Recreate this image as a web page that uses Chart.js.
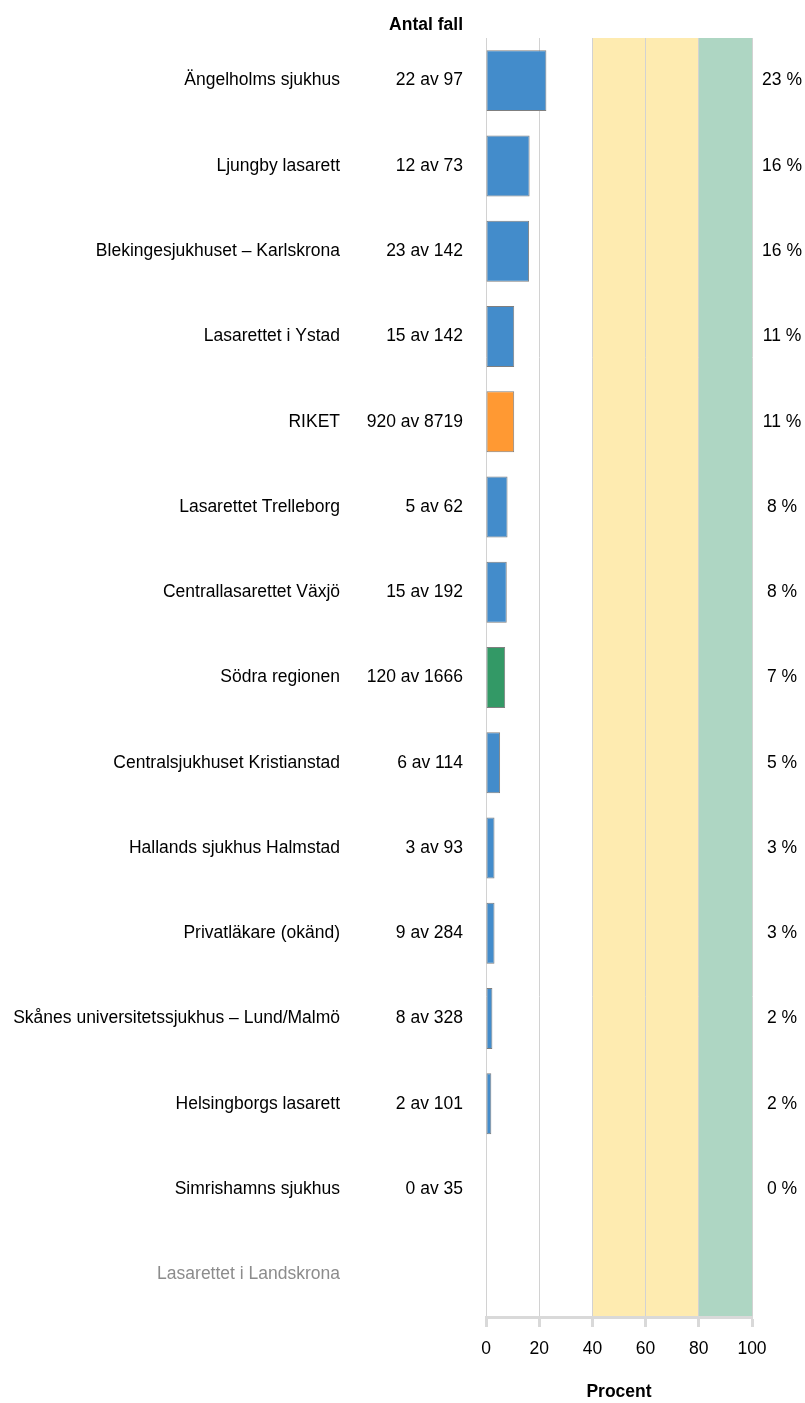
<!DOCTYPE html>
<html lang="sv">
<head>
<meta charset="utf-8">
<title>Andel per sjukhus</title>
<script src="https://cdn.jsdelivr.net/npm/chart.js@4.4.1/dist/chart.umd.min.js"></script>
<style>
  html, body { margin: 0; padding: 0; background: #fff; }
  #wrap { position: relative; width: 805px; height: 1403px; }
</style>
</head>
<body>
<div id="wrap"><canvas id="chart"></canvas></div>
<script>
// --- Data ---
const categories = [
  "Ängelholms sjukhus",
  "Ljungby lasarett",
  "Blekingesjukhuset – Karlskrona",
  "Lasarettet i Ystad",
  "RIKET",
  "Lasarettet Trelleborg",
  "Centrallasarettet Växjö",
  "Södra regionen",
  "Centralsjukhuset Kristianstad",
  "Hallands sjukhus Halmstad",
  "Privatläkare (okänd)",
  "Skånes universitetssjukhus – Lund/Malmö",
  "Helsingborgs lasarett",
  "Simrishamns sjukhus",
  "Lasarettet i Landskrona"
];
const percentValues = [22.7, 16.4, 16.2, 10.6, 10.6, 8.1, 7.8, 7.2, 5.3, 3.2, 3.2, 2.4, 2.0, 0, null];
const countLabels = [
  "22 av 97", "12 av 73", "23 av 142", "15 av 142", "920 av 8719", "5 av 62",
  "15 av 192", "120 av 1666", "6 av 114", "3 av 93", "9 av 284", "8 av 328",
  "2 av 101", "0 av 35", ""
];
const percentLabels = [
  "23 %", "16 %", "16 %", "11 %", "11 %", "8 %", "8 %", "7 %", "5 %", "3 %",
  "3 %", "2 %", "2 %", "0 %", ""
];
const unitKind = [
  "enhet", "enhet", "enhet", "enhet", "riket", "enhet", "enhet", "region",
  "enhet", "enhet", "enhet", "enhet", "enhet", "enhet", "saknas"
];
const xTicks = [0, 20, 40, 60, 80, 100];
// målnivåer (procent)
const bandLimits = [[40, 80], [80, 100]];

// --- Stil ---
const FONT = "'Liberation Sans', Arial, sans-serif";
const FONT_SIZE = 17.5;
const kindColor = { enhet: "#438ccb", riket: "#ff9933", region: "#339966", saknas: "#438ccb" };
const bandColors = ["#feebb0", "#aed6c3"];

// Bakgrundsband (gul/grön) ritas före rutnätet
const bandPlugin = {
  id: "bands",
  beforeDraw(chart) {
    const { ctx, chartArea } = chart;
    const x = chart.scales.x;
    ctx.save();
    bandLimits.forEach(([from, to], i) => {
      const x0 = x.getPixelForValue(from);
      const x1 = x.getPixelForValue(to);
      ctx.fillStyle = bandColors[i];
      ctx.fillRect(x0, chartArea.top, x1 - x0, chartArea.bottom - chartArea.top);
    });
    ctx.restore();
  }
};

// Kolumnerna "Antal fall" och procenttexten till höger
const textPlugin = {
  id: "columns",
  afterDraw(chart) {
    const { ctx, chartArea } = chart;
    const y = chart.scales.y;
    ctx.save();
    ctx.textBaseline = "middle";
    ctx.fillStyle = "#000";

    ctx.font = "bold " + FONT_SIZE + "px " + FONT;
    ctx.textAlign = "right";
    ctx.fillText("Antal fall", chartArea.left - 23, 25);

    ctx.font = FONT_SIZE + "px " + FONT;
    categories.forEach((c, i) => {
      const py = y.getPixelForValue(i);
      ctx.textAlign = "right";
      ctx.fillText(countLabels[i], chartArea.left - 23, py);
      ctx.textAlign = "center";
      ctx.fillText(percentLabels[i], chartArea.right + 30, py);
    });
    ctx.restore();
  }
};

new Chart(document.getElementById("chart"), {
  type: "bar",
  data: {
    labels: categories,
    datasets: [{
      data: percentValues,
      backgroundColor: unitKind.map(k => kindColor[k]),
      borderColor: "#7f7f7f",
      borderWidth: 1,
      borderSkipped: false,
      categoryPercentage: 1,
      barPercentage: 0.715
    }]
  },
  options: {
    indexAxis: "y",
    responsive: true,
    maintainAspectRatio: false,
    animation: false,
    layout: { padding: { top: 38, right: 53, left: 0, bottom: 0 } },
    plugins: { legend: { display: false }, tooltip: { enabled: false } },
    scales: {
      y: {
        // tickLength används som avstånd mellan etikett och diagramyta
        grid: { display: false, drawTicks: true, tickLength: 146 },
        border: { display: false },
        afterFit: s => { s.width = 486; s.paddingTop = 0; s.paddingBottom = 0; },
        ticks: {
          padding: 0,
          font: { family: FONT, size: FONT_SIZE },
          color: ctx => unitKind[ctx.index] === "saknas" ? "#8c8c8c" : "#000"
        }
      },
      x: {
        min: 0,
        max: 100,
        afterBuildTicks: s => { s.ticks = xTicks.map(v => ({ value: v })); },
        afterFit: s => { s.height = 86; },
        grid: {
          color: "#d2d2d2",
          lineWidth: 1,
          tickLength: 10,
          tickColor: "#d9d9d9",
          tickWidth: 3
        },
        border: { color: "#d9d9d9", width: 3 },
        ticks: {
          padding: 12,
          font: { family: FONT, size: FONT_SIZE },
          color: "#000"
        },
        title: {
          display: true,
          text: "Procent",
          color: "#000",
          font: { family: FONT, size: FONT_SIZE, weight: "bold" },
          padding: { top: 4, bottom: 0 }
        }
      }
    }
  },
  plugins: [bandPlugin, textPlugin]
});
</script>
</body>
</html>
